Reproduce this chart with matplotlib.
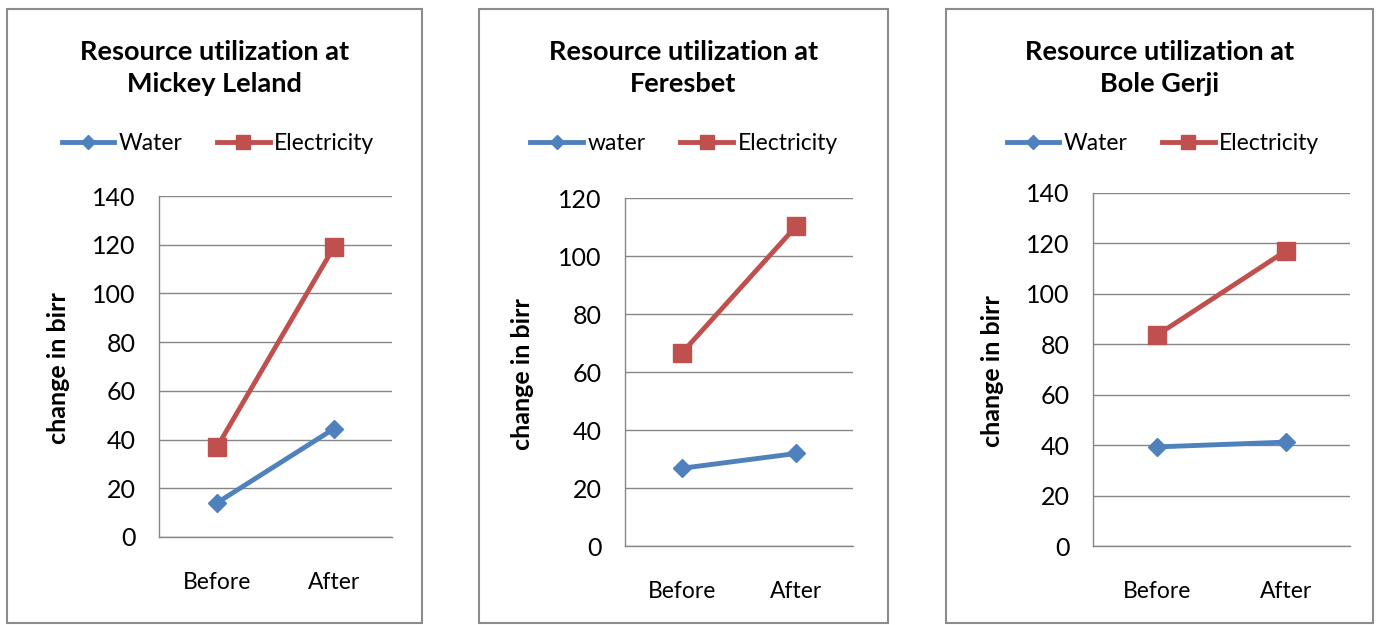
"""Resource utilization before/after at three sites."""
import matplotlib
matplotlib.use("Agg")
import matplotlib.pyplot as plt
from matplotlib.patches import Rectangle

W, H = 1384, 625

categories = ["Before", "After"]
sites = ["Mickey Leland", "Feresbet", "Bole Gerji"]
water_labels = ["Water", "water", "Water"]
water = [[14.1, 44.4], [26.8, 31.9], [39.3, 41.2]]
electricity = [[37.1, 118.9], [66.6, 110.2], [83.7, 117.0]]
ymax = [140, 120, 140]

# pixel layout: frame box, plot area, legend centre, y-label x
frames = [(7, 9, 422, 623), (479, 9, 888, 623), (946, 9, 1373, 623)]
plots = [(159, 196, 392, 537), (625, 198, 853, 546), (1093, 193, 1350, 546)]
legend_xy = [(218, 144), (684, 144), (1163, 144)]
ylabel_x = [59, 523, 992]

BLUE = "#4F81BD"
RED = "#C0504D"
GRID = "#868686"

plt.rcParams["font.family"] = ["Lato", "DejaVu Sans"]

fig = plt.figure(figsize=(W / 100, H / 100), dpi=100)


def fx(px):
    return px / W


def fy(py):
    return 1 - py / H


for i in range(3):
    x0, y0, x1, y1 = frames[i]
    fig.patches.append(Rectangle((fx(x0), fy(y1)), fx(x1 - x0), (y1 - y0) / H,
                                 transform=fig.transFigure, fill=False,
                                 edgecolor="#8c8c8c", linewidth=1.5))
    fig.text(fx((x0 + x1) / 2), fy(68), "Resource utilization at\n" + sites[i],
             ha="center", va="center", fontsize=19.5, fontweight="bold",
             linespacing=1.42)

    l, t, r, b = plots[i]
    ax = fig.add_axes([fx(l), fy(b), fx(r - l), (b - t) / H])
    x = [0, 1]
    ax.plot(x, water[i], color=BLUE, lw=3.5, marker="D", ms=9,
            label=water_labels[i])
    ax.plot(x, electricity[i], color=RED, lw=3.5, marker="s", ms=13,
            label="Electricity")
    ax.set_xlim(-0.5, 1.5)
    ax.set_ylim(0, ymax[i])
    ax.set_yticks(range(0, ymax[i] + 1, 20))
    ax.set_xticks(x)
    ax.set_xticklabels(categories)
    ax.grid(axis="y", color=GRID, linewidth=1)
    ax.set_axisbelow(True)
    for s in ["top", "right"]:
        ax.spines[s].set_visible(False)
    for s in ["left", "bottom"]:
        ax.spines[s].set_color(GRID)
        ax.spines[s].set_linewidth(1)
    ax.tick_params(axis="y", length=0, pad=17, labelsize=18)
    ax.tick_params(axis="x", length=0, pad=25, labelsize=16.5)

    fig.text(fx(ylabel_x[i]), fy((t + b) / 2 + 2), "change in birr", rotation=90,
             ha="center", va="center", fontsize=18, fontweight="bold")

    lx, ly = legend_xy[i]
    ax.legend(loc="center", bbox_to_anchor=(fx(lx), fy(ly)),
              bbox_transform=fig.transFigure, ncol=2, frameon=False,
              fontsize=16.5, handlelength=2.3, columnspacing=1.5,
              handletextpad=0.2, markerscale=0.75)

fig.savefig("out.png", dpi=100, facecolor="white")
